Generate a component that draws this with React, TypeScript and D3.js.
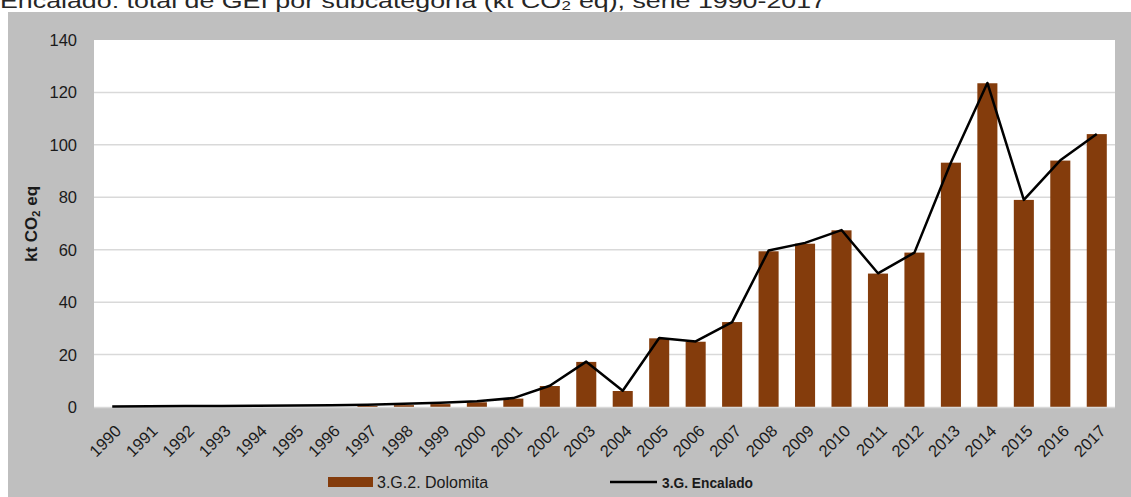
import React, { useRef, useEffect } from "react";
import * as d3 from "d3";

// Data
const years = [
  "1990", "1991", "1992", "1993", "1994", "1995", "1996", "1997", "1998", "1999",
  "2000", "2001", "2002", "2003", "2004", "2005", "2006", "2007", "2008", "2009",
  "2010", "2011", "2012", "2013", "2014", "2015", "2016", "2017",
];
const dolomita = [
  0, 0, 0, 0, 0, 0, 0, 0.4, 0.7, 1.1,
  1.8, 3.2, 8.0, 17.2, 6.1, 26.2, 24.9, 32.4, 59.4, 62.3,
  67.4, 50.9, 58.9, 93.2, 123.5, 79.0, 94.0, 104.1,
];
const encalado = [
  0.2, 0.3, 0.35, 0.4, 0.45, 0.55, 0.7, 0.9, 1.2, 1.6,
  2.2, 3.4, 8.1, 17.3, 6.2, 26.3, 25.0, 32.4, 59.7, 62.6,
  67.5, 51.0, 58.9, 93.3, 123.6, 79.0, 94.1, 104.1,
];
const yTicks = [0, 20, 40, 60, 80, 100, 120, 140];

const W = 1131;
const H = 497;
const FONT = "'Liberation Sans', Arial, sans-serif";
const BROWN = "#843C0C";

export default function App() {
  const svgRef = useRef<SVGSVGElement | null>(null);

  useEffect(() => {
    if (!svgRef.current) return;
    const svg = d3.select(svgRef.current);
    svg.selectAll("*").remove();

    const plot = { left: 94, right: 1115, top: 40, bottom: 407 };

    // outer gray chart area
    svg.append("rect")
      .attr("x", 8).attr("y", 12)
      .attr("width", W - 8).attr("height", H - 12)
      .attr("fill", "#BFBFBF");

    // title (cut off at the top, as in the source)
    svg.append("text")
      .attr("x", 0).attr("y", 8)
      .attr("font-family", FONT).attr("font-size", 21)
      .attr("fill", "#262626")
      .attr("textLength", 826).attr("lengthAdjust", "spacingAndGlyphs")
      .text("Encalado: total de GEI por subcategoría (kt CO₂ eq), serie 1990-2017");

    // plot area
    svg.append("rect")
      .attr("x", plot.left).attr("y", plot.top)
      .attr("width", plot.right - plot.left).attr("height", plot.bottom - plot.top)
      .attr("fill", "#FFFFFF");

    const x = d3.scaleBand<string>()
      .domain(years)
      .range([plot.left, plot.right])
      .paddingInner(0.45)
      .paddingOuter(0.225);

    const y = d3.scaleLinear().domain([0, 140]).range([plot.bottom, plot.top]);

    // gridlines
    svg.append("g")
      .selectAll("line")
      .data(yTicks.filter(t => t > 0 && t < 140))
      .join("line")
      .attr("x1", plot.left).attr("x2", plot.right)
      .attr("y1", d => y(d)).attr("y2", d => y(d))
      .attr("stroke", "#D9D9D9").attr("stroke-width", 1.5);

    // y tick labels
    svg.append("g")
      .selectAll("text")
      .data(yTicks)
      .join("text")
      .attr("x", 77)
      .attr("y", d => y(d) + 6)
      .attr("text-anchor", "end")
      .attr("font-family", FONT).attr("font-size", 16.5)
      .attr("fill", "#1a1a1a")
      .text(d => d);

    // y axis title
    const yt = svg.append("text")
      .attr("transform", "translate(37,224) rotate(-90)")
      .attr("text-anchor", "middle")
      .attr("font-family", FONT).attr("font-size", 17)
      .attr("font-weight", "bold")
      .attr("fill", "#1a1a1a");
    yt.append("tspan").text("kt CO");
    yt.append("tspan").attr("font-size", 11).attr("dy", 3).text("2");
    yt.append("tspan").attr("dy", -3).text(" eq");

    // bars
    svg.append("g")
      .selectAll("rect")
      .data(years.map((yr, i) => ({ yr, v: dolomita[i] })))
      .join("rect")
      .attr("x", d => x(d.yr)!)
      .attr("y", d => y(d.v))
      .attr("width", x.bandwidth())
      .attr("height", d => plot.bottom - y(d.v))
      .attr("fill", BROWN);

    // zero baseline
    svg.append("line")
      .attr("x1", plot.left).attr("x2", plot.right)
      .attr("y1", plot.bottom + 0.5).attr("y2", plot.bottom + 0.5)
      .attr("stroke", "#D9D9D9").attr("stroke-width", 1.5);

    // total line
    const line = d3.line<number>()
      .x((_, i) => x(years[i])! + x.bandwidth() / 2)
      .y(d => y(d));

    svg.append("path")
      .datum(encalado)
      .attr("fill", "none")
      .attr("stroke", "#000")
      .attr("stroke-width", 2.5)
      .attr("stroke-linejoin", "round")
      .attr("d", line);

    // x labels
    svg.append("g")
      .selectAll("text")
      .data(years)
      .join("text")
      .attr("transform", d => `translate(${x(d)! + x.bandwidth() / 2 + 10},${plot.bottom + 25}) rotate(-45)`)
      .attr("text-anchor", "end")
      .attr("font-family", FONT).attr("font-size", 16.5)
      .attr("fill", "#1a1a1a")
      .text(d => d);

    // legend
    const lg = svg.append("g");
    lg.append("rect")
      .attr("x", 328).attr("y", 477)
      .attr("width", 45).attr("height", 10)
      .attr("fill", BROWN);
    lg.append("text")
      .attr("x", 377).attr("y", 488)
      .attr("font-family", FONT).attr("font-size", 16)
      .attr("fill", "#1a1a1a")
      .text("3.G.2. Dolomita");
    lg.append("line")
      .attr("x1", 610).attr("x2", 657)
      .attr("y1", 482).attr("y2", 482)
      .attr("stroke", "#000").attr("stroke-width", 2.5);
    lg.append("text")
      .attr("x", 662).attr("y", 488)
      .attr("font-family", FONT).attr("font-size", 15)
      .attr("font-weight", "bold")
      .attr("fill", "#1a1a1a")
      .attr("textLength", 91).attr("lengthAdjust", "spacingAndGlyphs")
      .text("3.G. Encalado");
  }, []);

  return (
    <svg
      ref={svgRef}
      width={W}
      height={H}
      style={{ position: "absolute", left: 0, top: 0, background: "#fff" }}
    />
  );
}
